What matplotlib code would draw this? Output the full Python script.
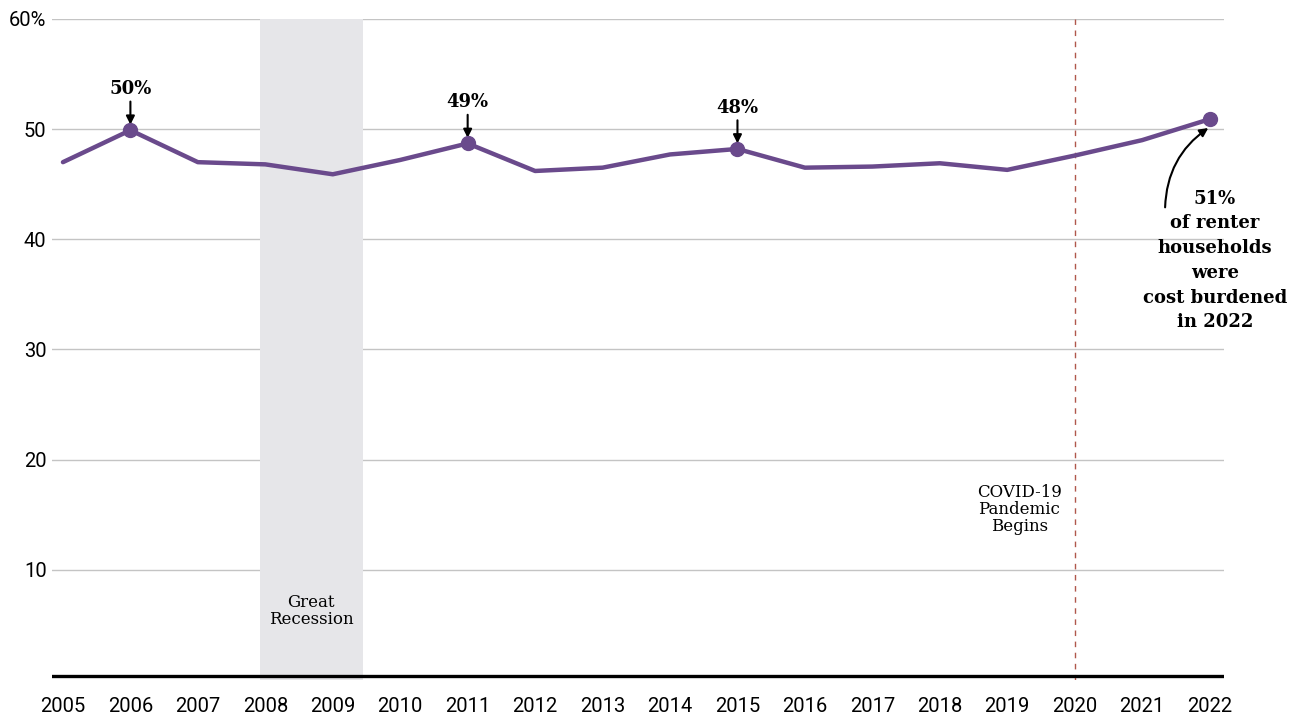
import numpy as np
import matplotlib
matplotlib.use("Agg")
import matplotlib.pyplot as plt

years = list(range(2005, 2023))
share = [47.0, 49.9, 47.0, 46.8, 45.9, 47.2, 48.7, 46.2, 46.5, 47.7,
         48.2, 46.5, 46.6, 46.9, 46.3, 47.6, 49.0, 50.9]
callout_years = [2006, 2011, 2015]
callout_labels = ["50%", "49%", "48%"]
yticks = [10, 20, 30, 40, 50, 60]
ytick_labels = ["10", "20", "30", "40", "50", "60%"]
recession = (2007.92, 2009.45)
covid_year = 2020

purple = "#6a4a8c"
slab = ["DejaVu Serif"]

fig = plt.figure(figsize=(13.04, 7.17), dpi=100)
ax = fig.add_axes([0.040, 0.0516, 0.899, 0.922])

ax.set_xlim(2004.84, 2022.22)
ax.set_ylim(0, 60)

# gridlines
for t in yticks:
    ax.axhline(t, color="#c4c4c4", lw=1, zorder=0)
ax.axhline(0.35, color="black", lw=2.4, zorder=3)

# shaded recession band and covid marker
ax.axvspan(recession[0], recession[1], color="#e6e6e9", zorder=0.5, lw=0)
ax.axvline(covid_year, color="#b0574c", lw=1, ls=(0, (4, 4)), zorder=1)

ax.plot(years, share, color=purple, lw=3.2, zorder=4, solid_capstyle="round",
        solid_joinstyle="round")
mark_years = callout_years + [years[-1]]
mark_vals = [share[years.index(y)] for y in mark_years]
ax.plot(mark_years, mark_vals, "o", color=purple, ms=10, zorder=5)

for y, lab in zip(callout_years, callout_labels):
    v = share[years.index(y)]
    ax.annotate("", xy=(y, v + 0.5), xytext=(y, v + 2.6),
                arrowprops=dict(arrowstyle="-|>,head_length=0.5,head_width=0.25",
                                color="black", lw=1.5, shrinkA=0, shrinkB=0))
    ax.text(y, v + 2.9, lab, ha="center", va="bottom", fontsize=13,
            fontweight="bold", family=slab)

ax.annotate("", xy=(years[-1] - 0.02, share[-1] - 0.8),
            xytext=(years[-1] - 0.66, 42.9),
            arrowprops=dict(arrowstyle="-|>,head_length=0.5,head_width=0.25",
                            color="black", lw=1.5, shrinkA=0, shrinkB=0,
                            connectionstyle="arc3,rad=-0.25"))
ax.text(years[-1] + 0.08, 44.5,
        "51%\nof renter\nhouseholds\nwere\ncost burdened\nin 2022",
        ha="center", va="top", fontsize=13, fontweight="bold", family=slab,
        linespacing=1.48)

ax.text(2008.68, 7.8, "Great\nRecession", ha="center", va="top", fontsize=12,
        family=slab, linespacing=1.0)
ax.text(covid_year - 0.82, 17.8, "COVID-19\nPandemic\nBegins", ha="center",
        va="top", fontsize=12, family=slab, linespacing=1.0)

ax.set_xticks(years)
ax.set_xticklabels([str(y) for y in years])
ax.set_yticks(yticks)
ax.set_yticklabels(ytick_labels)
ax.tick_params(axis="both", length=0, labelsize=14.5)
ax.tick_params(axis="x", pad=12)
ax.tick_params(axis="y", pad=4)
for lab in ax.get_xticklabels() + ax.get_yticklabels():
    lab.set_family(["Roboto", "DejaVu Sans"])
for s in ax.spines.values():
    s.set_visible(False)

fig.savefig("out.png", dpi=100)
